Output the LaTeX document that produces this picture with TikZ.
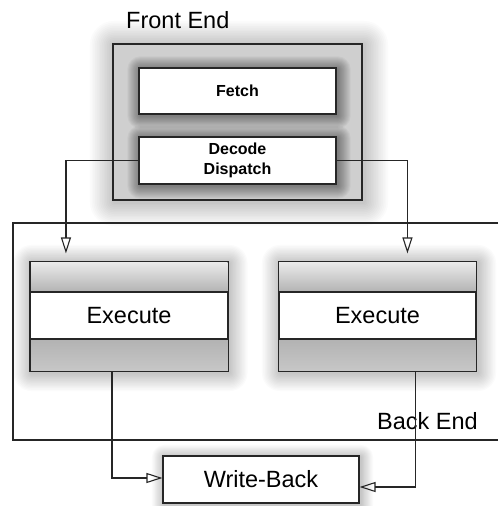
\documentclass[tikz,border=0pt]{standalone}
\usepackage{fontspec}
\setmainfont{Liberation Sans}
\usetikzlibrary{arrows.meta,backgrounds}
% soft glow behind a node: stacked translucent rectangles
% #1 node, #2 spread in pt, #3 opacity of one layer
\newcommand\softglow[3]{%
  \foreach \k in {1,...,14}{%
    \pgfmathsetmacro\gr{#2*\k/14}%
    \fill[black,opacity=#3,rounded corners=\gr pt]
      ([xshift=-\gr pt+1.5pt,yshift=\gr pt-1.5pt]#1.north west) rectangle
      ([xshift=\gr pt+1.5pt,yshift=-\gr pt-1.5pt]#1.south east);
  }}
\begin{document}
\begin{tikzpicture}[x=1pt,y=-1pt,
  wire/.style={draw=black!85,line width=1.1pt},
  opentip/.style={-{Triangle[open,length=16pt,width=10pt,line width=1.1pt]}},
  box/.style={rectangle,draw=black!85,line width=1.1pt,inner sep=0pt},
  big/.style={font=\fontsize{23.5}{28}\selectfont},
  small/.style={font=\fontsize{16}{20}\selectfont\bfseries,align=center}]
\useasboundingbox (0,0) rectangle (498,506);

% front end group
\node[box,fill=black!19,minimum width=249pt,minimum height=156pt] (fe) at (237.5,122) {};
\node[big,anchor=base west,inner sep=0pt] (fetitle) at (126,28) {Front End};
\begin{scope}
  \clip (fe.north west) rectangle (fe.south east);
  \coordinate (fetchA) at (237.5,91);
  \node[minimum width=197pt,minimum height=46pt,inner sep=0pt] (fetchglow) at (fetchA) {};
  \node[minimum width=197pt,minimum height=47pt,inner sep=0pt] (decglow) at (237.5,160.5) {};
  \softglow{fetchglow}{13}{0.03}
  \softglow{decglow}{13}{0.03}
\end{scope}
\draw[box] (fe.north west) rectangle (fe.south east);
\node[box,fill=white,small,minimum width=197pt,minimum height=46pt] (fetch) at (fetchA) {Fetch};
\node[box,fill=white,small,minimum width=197pt,minimum height=47pt] (dec) at (237.5,160.5) {Decode\\Dispatch};

% execute units: shaded top and bottom bands around a white middle band
\foreach \nm/\cx in {exA/129,exB/377.5}{
  \node[box,fill=black!25,minimum width=197pt,minimum height=109pt] (\nm) at (\cx,316.5) {};
  \shade[top color=black!8,bottom color=black!30] (\cx-98.5,262) rectangle (\cx+98.5,292);
  \shade[top color=black!30,bottom color=black!22] (\cx-98.5,339) rectangle (\cx+98.5,371);
  \node[box,fill=white,big,minimum width=197pt,minimum height=47pt] (\nm mid) at (\cx,315.5) {Execute};
  \draw[box] (\nm.north west) rectangle (\nm.south east);
}

% write-back stage
\node[box,fill=white,big,minimum width=196pt,minimum height=47pt] (wb) at (261,479.5) {Write-Back};

% back end frame, open to the right
\coordinate (beTR) at (498,223);
\coordinate (beBR) at (498,440);
\node[big,anchor=base west,inner sep=0pt] (betitle) at (377,429) {Back End};

% connectors
\draw[wire,opentip,shorten >=8pt] (dec.west) -| ([xshift=36pt]exA.north west);
\draw[wire,opentip,shorten >=8pt] (dec.east) -| ([xshift=129pt]exB.north west);
\draw[wire,opentip] ([xshift=82pt]exA.south west) |- ([yshift=1.5pt]wb.west);
\draw[wire,opentip] ([xshift=137pt]exB.south west) |- ([yshift=-7.5pt]wb.east);

\begin{scope}[on background layer]
  \fill[white] (0,0) rectangle (498,506);
  \softglow{fe}{24}{0.014}
  \softglow{exA}{18}{0.014}
  \softglow{exB}{18}{0.014}
  \softglow{wb}{12}{0.014}
  \draw[wire] (beTR) -| (13,440) -- (beBR);
\end{scope}
\end{tikzpicture}
\end{document}
